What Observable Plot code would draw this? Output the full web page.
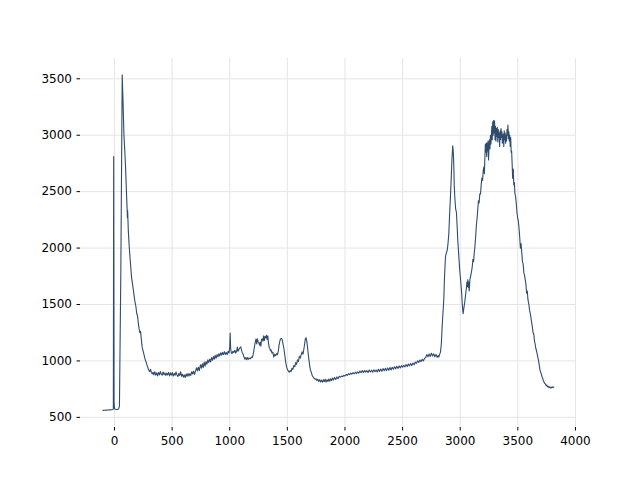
<!DOCTYPE html>
<html>
<head>
<meta charset="utf-8">
<script src="https://cdn.jsdelivr.net/npm/d3@7"></script>
<script src="https://cdn.jsdelivr.net/npm/@observablehq/plot@0.6"></script>
<style>
  html, body { margin: 0; padding: 0; background: #ffffff; }
  #chart { width: 640px; height: 480px; }
</style>
</head>
<body>
<div id="chart"></div>
<script>
// Tick labels
const xTicks = [0, 500, 1000, 1500, 2000, 2500, 3000, 3500, 4000];
const yTicks = [500, 1000, 1500, 2000, 2500, 3000, 3500];

// Spectrum points: [shift, intensity]
const spectrum = [
  [-100,562],[-85,563],[-70,564],[-55,565],[-40,566],[-25,567],[-15,569],[-10,575],[-7,2810],[-4,640],
  [0,578],[8,572],[18,570],[28,571],[36,575],[43,600],[55,1800],[67,3535],[74,3300],[82,3000],
  [90,2850],[96,2715],[103,2520],[110,2332],[112,2270],[114,2335],[120,2150],[128,2010],[136,1900],[148,1742],
  [158,1670],[166,1610],[176,1535],[186,1480],[193,1420],[200,1400],[207,1330],[213,1290],[220,1250],[226,1262],
  [232,1200],[240,1122],[248,1090],[255,1060],[262,1030],[269,1005],[276,985],[283,960],[290,940],[298,916],
  [306,905],[313,925],[320,898],[328,885],[335,900],[342,876],[350,904],[358,874],[366,894],[374,868],
  [382,898],[390,876],[398,906],[406,882],[414,874],[422,902],[430,878],[438,894],[446,870],[454,892],
  [462,876],[470,899],[478,868],[486,894],[494,874],[502,897],[510,866],[518,889],[526,873],[534,902],
  [542,876],[550,862],[558,889],[566,871],[574,904],[582,864],[590,882],[598,856],[606,876],[614,853],
  [622,884],[630,864],[638,889],[646,866],[654,886],[662,872],[670,904],[678,884],[686,909],[694,881],
  [703,909],[712,939],[720,911],[728,944],[736,914],[746,966],[754,936],[762,974],[770,941],[778,989],
  [786,954],[794,994],[802,971],[810,1009],[818,986],[826,1016],[834,991],[842,1029],[850,1006],[858,1039],
  [866,1016],[874,1049],[882,1024],[890,1056],[898,1036],[906,1064],[914,1044],[922,1072],[930,1051],[938,1076],
  [946,1056],[954,1082],[962,1058],[970,1074],[978,1056],[986,1086],[994,1071],[1000,1120],[1004,1246],[1008,1110],
  [1014,1070],[1020,1066],[1028,1085],[1036,1075],[1044,1095],[1052,1070],[1060,1090],[1066,1122],[1072,1085],[1080,1100],
  [1088,1118],[1096,1125],[1102,1095],[1108,1075],[1116,1060],[1124,1035],[1132,1015],[1140,1030],[1148,1010],[1156,1030],
  [1164,1015],[1172,1025],[1180,1020],[1188,1035],[1196,1030],[1204,1060],[1212,1110],[1220,1160],[1228,1195],[1234,1150],
  [1240,1195],[1246,1170],[1252,1162],[1258,1140],[1264,1165],[1270,1130],[1276,1190],[1282,1196],[1288,1175],[1294,1222],
  [1300,1180],[1306,1215],[1312,1205],[1318,1228],[1324,1190],[1330,1222],[1336,1160],[1342,1120],[1348,1110],[1354,1090],
  [1360,1095],[1366,1070],[1374,1078],[1382,1034],[1390,1060],[1398,1045],[1406,1065],[1414,1055],[1422,1090],[1428,1140],
  [1434,1170],[1440,1195],[1448,1200],[1455,1190],[1462,1150],[1470,1110],[1478,1050],[1486,985],[1494,945],[1500,925],
  [1508,912],[1516,900],[1524,915],[1532,905],[1540,935],[1548,925],[1556,960],[1564,948],[1572,985],[1580,970],
  [1588,1010],[1596,995],[1604,1040],[1612,1025],[1620,1055],[1628,1080],[1636,1060],[1644,1110],[1650,1150],[1656,1196],
  [1662,1205],[1668,1180],[1674,1130],[1680,1070],[1686,1020],[1692,970],[1700,920],[1708,898],[1716,870],[1724,858],
  [1732,845],[1740,838],[1748,842],[1756,826],[1764,838],[1772,818],[1780,834],[1788,814],[1796,830],[1804,812],
  [1812,834],[1820,816],[1828,838],[1836,812],[1844,834],[1852,818],[1860,840],[1868,820],[1876,842],[1884,826],
  [1892,848],[1900,830],[1910,854],[1920,836],[1930,858],[1940,842],[1950,864],[1960,856],[1970,866],[1980,860],
  [1990,872],[2000,866],[2010,880],[2020,872],[2030,886],[2040,878],[2050,892],[2060,882],[2070,896],[2080,886],
  [2090,900],[2100,888],[2110,904],[2120,892],[2130,910],[2140,896],[2150,914],[2160,898],[2170,916],[2180,900],
  [2190,914],[2200,898],[2210,920],[2220,902],[2230,918],[2240,900],[2250,922],[2260,904],[2270,920],[2280,902],
  [2290,926],[2300,906],[2310,928],[2320,908],[2330,932],[2340,912],[2350,934],[2360,914],[2370,938],[2380,918],
  [2390,942],[2400,920],[2410,944],[2420,926],[2430,948],[2440,930],[2450,952],[2460,934],[2470,956],[2480,938],
  [2490,958],[2500,944],[2510,962],[2520,946],[2530,968],[2540,950],[2550,972],[2560,956],[2570,978],[2580,960],
  [2590,982],[2600,966],[2610,990],[2620,978],[2630,1002],[2640,986],[2650,1008],[2660,994],[2670,1014],[2680,1000],
  [2690,1022],[2700,1030],[2710,1056],[2720,1036],[2730,1062],[2740,1040],[2750,1068],[2760,1044],[2770,1064],[2780,1036],
  [2790,1058],[2800,1032],[2810,1048],[2814,1034],[2822,1060],[2829,1078],[2836,1150],[2843,1300],[2850,1420],[2857,1535],
  [2864,1750],[2872,1919],[2880,1960],[2887,1978],[2894,2040],[2901,2126],[2908,2300],[2915,2450],[2922,2620],[2928,2780],
  [2935,2907],[2940,2850],[2944,2745],[2948,2560],[2953,2450],[2960,2350],[2967,2317],[2973,2200],[2979,2066],[2987,1940],
  [2996,1801],[3004,1710],[3011,1624],[3018,1500],[3025,1418],[3032,1470],[3039,1520],[3046,1580],[3053,1640],[3058,1700],
  [3062,1660],[3066,1720],[3070,1650],[3074,1700],[3078,1620],[3084,1720],[3090,1750],[3096,1780],[3104,1830],[3110,1900],
  [3116,1880],[3122,1960],[3127,2007],[3134,2100],[3140,2200],[3147,2273],[3152,2340],[3158,2420],[3164,2400],[3170,2480],
  [3176,2480],[3182,2560],[3188,2620],[3194,2600],[3200,2690],[3206,2720],[3210,2660],[3214,2800],[3218,2920],[3222,2850],
  [3226,2930],[3230,2810],[3234,2930],[3238,2860],[3242,2950],[3246,2780],[3250,2900],[3254,2960],[3258,2880],[3262,3000],
  [3266,2920],[3270,2980],[3274,3080],[3278,2960],[3282,3120],[3286,3000],[3290,3130],[3294,3020],[3298,3128],[3302,2960],
  [3306,3080],[3310,2950],[3314,3060],[3318,2990],[3322,3070],[3326,2940],[3330,3050],[3334,2980],[3338,3020],[3342,2900],
  [3346,3040],[3350,2960],[3354,3060],[3358,2980],[3362,3030],[3366,2930],[3370,2990],[3374,3010],[3378,2900],[3382,3040],
  [3386,2960],[3390,3020],[3394,2930],[3398,3000],[3402,2950],[3406,3050],[3410,3000],[3414,3090],[3418,2970],[3422,3030],
  [3426,2950],[3430,3000],[3434,2900],[3438,2980],[3442,2850],[3446,2860],[3450,2760],[3455,2620],[3460,2700],[3465,2560],
  [3470,2580],[3475,2480],[3480,2460],[3486,2400],[3492,2320],[3498,2270],[3504,2240],[3510,2180],[3516,2100],[3522,2000],
  [3528,2040],[3534,1960],[3540,1880],[3546,1860],[3552,1780],[3558,1760],[3564,1720],[3570,1680],[3576,1600],[3582,1620],
  [3588,1540],[3595,1506],[3602,1450],[3608,1420],[3614,1380],[3620,1340],[3626,1300],[3632,1250],[3638,1240],[3644,1180],
  [3650,1150],[3656,1110],[3662,1090],[3668,1060],[3674,1030],[3680,1000],[3686,960],[3692,920],[3698,900],[3704,880],
  [3710,860],[3716,845],[3722,820],[3728,812],[3734,800],[3740,795],[3746,780],[3752,785],[3758,770],[3764,775],
  [3770,765],[3776,770],[3782,760],[3788,768],[3794,760],[3800,770],[3806,765],[3812,768]
];

const fmt = d => String(d);

const chart = Plot.plot({
  width: 640,
  height: 480,
  marginLeft: 80,
  marginRight: 64,
  marginTop: 58,
  marginBottom: 53,
  style: { fontFamily: "DejaVu Sans", fontSize: "12px", background: "#ffffff", color: "#000000" },
  x: { domain: [-295, 4009], label: null },
  y: { domain: [410, 3680], label: null },
  marks: [
    Plot.gridX(xTicks, { stroke: "#e5e5e5", strokeOpacity: 1, strokeWidth: 1 }),
    Plot.gridY(yTicks, { stroke: "#e5e5e5", strokeOpacity: 1, strokeWidth: 1 }),
    Plot.axisX(xTicks, { tickSize: 3.5, tickPadding: 5.5, tickFormat: fmt, fontSize: 12, label: null, stroke: "#000" }),
    Plot.axisY(yTicks, { tickSize: 3.5, tickPadding: 5, tickFormat: fmt, fontSize: 12, label: null, stroke: "#000" }),
    Plot.line(spectrum, { x: d => d[0], y: d => d[1], stroke: "#2f4b6e", strokeWidth: 1.1, curve: "linear" })
  ]
});
document.getElementById("chart").appendChild(chart);
</script>
</body>
</html>
